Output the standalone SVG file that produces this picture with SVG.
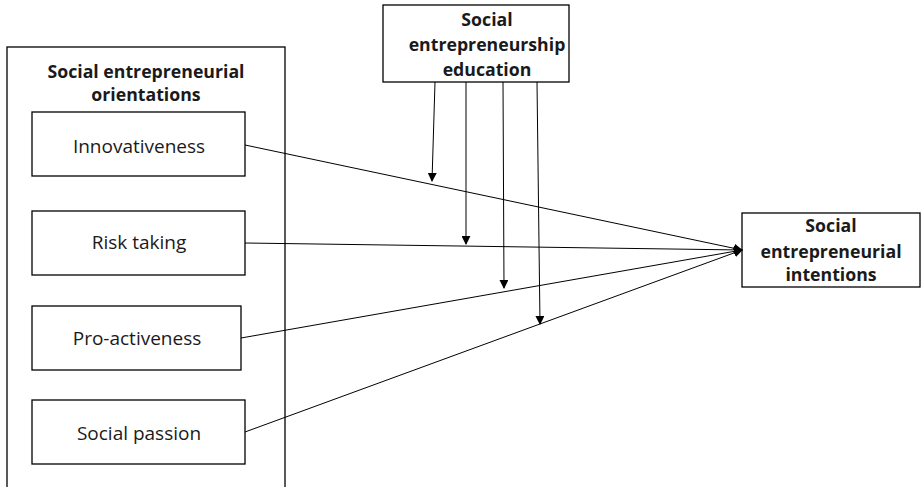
<svg xmlns="http://www.w3.org/2000/svg" width="921" height="487" viewBox="0 0 921 487">
<style>
.box{fill:#fff;stroke:#000;stroke-width:1.3}
.t{font-family:"Open Sans","Liberation Sans",sans-serif;font-size:19px;fill:#1a1a1a;text-anchor:middle}
.b{font-weight:bold;font-size:17.7px}
.c{stroke:#000;stroke-width:1;fill:none}
</style>
<defs>
<marker id="ah" viewBox="0 0 10 10" refX="9" refY="5" markerWidth="9" markerHeight="9" markerUnits="userSpaceOnUse" orient="auto">
<path d="M0,0 L10,5 L0,10 Z" fill="#000"/>
</marker>
</defs>
<rect width="921" height="487" fill="#fff"/>
<g id="orientations">
<rect class="box" x="7" y="47" width="278" height="450"/>
<text class="t b" x="146" y="78">Social entrepreneurial</text>
<text class="t b" x="146" y="101">orientations</text>
</g>
<g id="innovativeness">
<rect class="box" x="32" y="112" width="213" height="64"/>
<text class="t" x="139" y="153">Innovativeness</text>
</g>
<g id="risk">
<rect class="box" x="32" y="211" width="213" height="64"/>
<text class="t" x="139" y="249">Risk taking</text>
</g>
<g id="proactive">
<rect class="box" x="32" y="306" width="209" height="64"/>
<text class="t" x="137" y="345">Pro-activeness</text>
</g>
<g id="passion">
<rect class="box" x="32" y="400" width="213" height="64"/>
<text class="t" x="139" y="440">Social passion</text>
</g>
<g id="education">
<rect class="box" x="383" y="5" width="186" height="77"/>
<text class="t b" x="487" y="26">Social</text>
<text class="t b" x="487" y="51">entrepreneurship</text>
<text class="t b" x="487" y="76">education</text>
</g>
<g id="intentions">
<rect class="box" x="742" y="213" width="178" height="74"/>
<text class="t b" x="831" y="232">Social</text>
<text class="t b" x="831" y="258">entrepreneurial</text>
<text class="t b" x="831" y="281">intentions</text>
</g>
<g id="connectors">
<line class="c" x1="245" y1="145" x2="742" y2="250" marker-end="url(#ah)"/>
<line class="c" x1="245" y1="243" x2="742" y2="250" marker-end="url(#ah)"/>
<line class="c" x1="241" y1="338" x2="742" y2="250" marker-end="url(#ah)"/>
<line class="c" x1="245" y1="432" x2="742" y2="250" marker-end="url(#ah)"/>
<line class="c" x1="435" y1="82" x2="432" y2="181" marker-end="url(#ah)"/>
<line class="c" x1="466" y1="82" x2="466" y2="244" marker-end="url(#ah)"/>
<line class="c" x1="503" y1="82" x2="504" y2="288" marker-end="url(#ah)"/>
<line class="c" x1="537" y1="82" x2="540" y2="324" marker-end="url(#ah)"/>
</g>
</svg>
